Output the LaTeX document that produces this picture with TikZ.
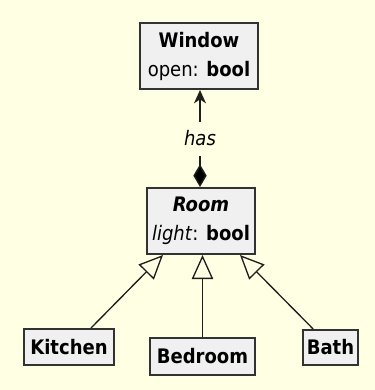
\documentclass[tikz,border=0pt]{standalone}
\usepackage{fontspec}
\setmainfont{DejaVu Sans Condensed}
\usetikzlibrary{arrows.meta}

\definecolor{canvas}{RGB}{255,255,228}
\definecolor{boxfill}{RGB}{240,240,240}
\definecolor{boxline}{RGB}{50,50,50}
\definecolor{wire}{RGB}{30,30,30}

\tikzset{
  classbox/.style={draw=boxline, fill=boxfill, line width=1.5pt, rectangle,
    inner sep=0pt, align=center, font=\fontsize{15}{21.75}\selectfont},
  wirestyle/.style={draw=wire, line width=1pt},
  inherit/.style={wirestyle, -{Triangle[open, length=18pt, width=16pt, line width=1pt]}},
  compose/.style={wirestyle,
    {Diamond[length=17pt, width=10pt, fill=black]}-{Stealth[length=10pt, width=9pt, inset=3pt]}},
  rolename/.style={fill=canvas, inner xsep=1pt, inner ysep=0pt, minimum height=25.5pt,
    font=\fontsize{15}{16}\selectfont\itshape}
}

\begin{document}
\begin{tikzpicture}[x=0.75pt, y=-0.75pt]
  % canvas
  \fill[canvas] (0,0) rectangle (375,390);
  \useasboundingbox (0,0) rectangle (375,390);

  % classes
  \node[classbox, minimum width=88.5pt, minimum height=49.5pt] (window) at (199,56)
    {\textbf{Window}\\open: \textbf{bool}};
  \node[classbox, minimum width=81pt, minimum height=49.5pt] (room) at (201,221)
    {\textbf{\textit{Room}}\\\textit{light}: \textbf{bool}};
  \node[classbox, minimum width=67.5pt, minimum height=27pt] (kitchen) at (69,347)
    {\textbf{Kitchen}};
  \node[classbox, minimum width=78.75pt, minimum height=27.75pt] (bedroom) at (202.5,356.5)
    {\textbf{Bedroom}};
  \node[classbox, minimum width=41.25pt, minimum height=26.25pt] (bath) at (330.5,347.5)
    {\textbf{Bath}};

  % composition: a room has windows
  \draw[compose] ([xshift=-0.75pt]room.north) -- node[rolename] {has} ([xshift=0.75pt]window.south);

  % specialisations of Room
  \draw[inherit] ([xshift=16.5pt]kitchen.north) -- ([xshift=-28.5pt]room.south);
  \draw[inherit] (bedroom.north) -- (bedroom.north |- room.south);
  \draw[inherit] ([xshift=-13pt]bath.north) -- ([xshift=29.25pt]room.south);
\end{tikzpicture}
\end{document}
